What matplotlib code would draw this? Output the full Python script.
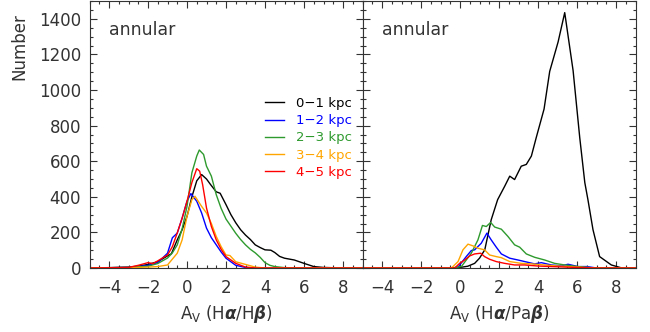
"""
A_V distributions in annular bins: Halpha/Hbeta vs Halpha/Pabeta
"""
import matplotlib
matplotlib.use('Agg')
import matplotlib.pyplot as plt
from matplotlib.ticker import MultipleLocator

plt.rcParams['font.family'] = ['DejaVu Sans']
plt.rcParams['mathtext.fontset'] = 'dejavusans'

# legend labels and line colours
labels = ['0\u22121 kpc', '1\u22122 kpc', '2\u22123 kpc', '3\u22124 kpc', '4\u22125 kpc']
colors = ['black', '#0000ff', '#2e9a2e', '#ffa500', '#ff0000']

# left panel: A_V (Halpha/Hbeta)
black_l_x = [-5, -4, -3, -2.5, -2, -1.5, -1.2, -1, -0.8, -0.5, -0.25, 0, 0.25, 0.5, 0.75,
             1.0, 1.2, 1.5, 1.7, 2.0, 2.25, 2.5, 2.75, 3.0, 3.25, 3.5, 3.75, 4.0, 4.3,
             4.5, 4.75, 5.0, 5.5, 6.0, 6.5, 7.0, 8, 9]
black_l_y = [0, 2, 5, 10, 20, 35, 55, 68, 80, 158, 215, 290, 400, 490, 525,
             500, 470, 428, 420, 356, 300, 254, 215, 185, 160, 130, 115, 102, 100,
             87, 65, 55, 45, 26, 8, 3, 0, 0]

blue_l_x = [-5, -3, -2.5, -2, -1.5, -1, -0.75, -0.5, -0.25, 0, 0.2, 0.5, 0.75, 1.0,
            1.25, 1.5, 1.75, 2.0, 2.5, 3.0, 3.5, 9]
blue_l_y = [0, 3, 8, 15, 30, 83, 170, 196, 280, 375, 418, 375, 309, 224,
            170, 130, 90, 55, 15, 3, 0, 0]

green_l_x = [-5, -3, -2, -1.5, -1, -0.75, -0.5, -0.25, 0, 0.25, 0.5, 0.63, 0.85, 1.0,
             1.25, 1.5, 1.75, 2.0, 2.25, 2.5, 2.75, 3.0, 3.25, 3.5, 3.75, 4.0, 4.25,
             4.5, 5, 6, 9]
green_l_y = [0, 3, 10, 25, 56, 85, 130, 220, 346, 535, 629, 663, 638, 572,
             516, 412, 335, 275, 235, 195, 160, 130, 105, 85, 60, 30, 15,
             8, 2, 0, 0]

orange_l_x = [-5, -3, -2, -1.5, -1, -0.5, -0.25, 0, 0.25, 0.41, 0.75, 1.0, 1.25, 1.5,
              1.75, 2.0, 2.2, 2.5, 3.0, 3.5, 4, 9]
orange_l_y = [0, 2, 5, 8, 17, 83, 158, 290, 384, 403, 346, 309, 250, 177,
              120, 73, 70, 35, 20, 5, 0, 0]

red_l_x = [-5, -3, -2.5, -2.0, -1.75, -1.5, -1, -0.75, -0.5, -0.25, 0, 0.25, 0.5, 0.65,
           0.8, 1.0, 1.25, 1.5, 1.75, 2.0, 2.5, 3.0, 3.5, 9]
red_l_y = [0, 3, 15, 30, 25, 40, 73, 120, 197, 280, 375, 480, 558, 544,
           469, 337, 233, 158, 105, 64, 26, 5, 0, 0]

# right panel: A_V (Halpha/Pabeta)
black_r_x = [-5, -0.5, 0, 0.4, 0.75, 1.0, 1.27, 1.6, 1.93, 2.29, 2.55, 2.8, 3.14, 3.4,
             3.66, 3.91, 4.31, 4.6, 5.03, 5.37, 5.8, 6.14, 6.4, 6.56, 6.82, 7.16, 7.76,
             8.3, 9]
black_r_y = [0, 0, 3, 10, 26, 55, 102, 271, 384, 459, 516, 497, 572, 582,
             629, 733, 893, 1105, 1270, 1435, 1109, 733, 480, 384, 215, 64, 17,
             0, 0]

blue_r_x = [-5, -0.4, -0.1, 0.32, 0.58, 0.75, 1.09, 1.38, 1.6, 1.86, 2.12, 2.55, 2.97,
            3.32, 3.83, 4.17, 4.68, 5.2, 5.54, 6.05, 6.5, 7, 9]
blue_r_y = [0, 0, 5, 64, 98, 102, 139, 196, 158, 117, 79, 55, 45,
            36, 23, 30, 17, 12, 21, 8, 8, 0, 0]

green_r_x = [-5, -0.4, 0.07, 0.58, 0.92, 1.15, 1.35, 1.57, 1.78, 2.12, 2.46, 2.8, 3.06,
             3.4, 3.83, 4.34, 4.85, 5.37, 6.05, 6.56, 7, 9]
green_r_y = [0, 0, 8, 83, 158, 239, 233, 256, 230, 218, 177, 130, 117,
             79, 60, 45, 26, 17, 8, 3, 0, 0]

orange_r_x = [-5, -0.44, -0.1, 0.15, 0.41, 0.67, 0.92, 1.26, 1.52, 1.86, 2.12, 2.55,
              3.14, 3.66, 4.34, 5.03, 6.0, 7, 9]
orange_r_y = [0, 0, 36, 102, 134, 124, 111, 102, 73, 64, 58, 36,
              26, 23, 17, 11, 5, 0, 0]

red_r_x = [-5, -0.27, -0.02, 0.24, 0.5, 0.75, 1.06, 1.26, 1.52, 1.86, 2.29, 2.8, 3.32,
           4.0, 4.68, 6.0, 7, 9]
red_r_y = [0, 0, 26, 45, 68, 79, 83, 64, 49, 36, 26, 17, 17,
           11, 8, 3, 0, 0]

left_series = [(black_l_x, black_l_y), (blue_l_x, blue_l_y), (green_l_x, green_l_y),
               (orange_l_x, orange_l_y), (red_l_x, red_l_y)]
right_series = [(black_r_x, black_r_y), (blue_r_x, blue_r_y), (green_r_x, green_r_y),
                (orange_r_x, orange_r_y), (red_r_x, red_r_y)]

text_color = '#333333'

fig = plt.figure(figsize=(6.5, 3.32), dpi=100)
ax1 = fig.add_axes([0.1377, 0.1928, 0.42, 0.804])
ax2 = fig.add_axes([0.5577, 0.1928, 0.42, 0.804])

for ax, series, xlab in [(ax1, left_series, r'A$_{\rm V}$ (H$\boldsymbol{\alpha}$/H$\boldsymbol{\beta}$)'),
                         (ax2, right_series, r'A$_{\rm V}$ (H$\boldsymbol{\alpha}$/Pa$\boldsymbol{\beta}$)')]:
    for (x, y), c, lab in zip(series, colors, labels):
        ax.plot(x, y, color=c, lw=1.0, label=lab)
    ax.set_xlim(-5, 9)
    ax.set_ylim(0, 1500)
    ax.xaxis.set_major_locator(MultipleLocator(2))
    ax.xaxis.set_minor_locator(MultipleLocator(0.5))
    ax.yaxis.set_major_locator(MultipleLocator(200))
    ax.yaxis.set_minor_locator(MultipleLocator(50))
    ax.tick_params(which='both', direction='in', top=True, right=True,
                   colors=text_color, labelsize=12, width=0.8)
    ax.tick_params(which='major', length=5)
    ax.tick_params(which='minor', length=2.5)
    ax.tick_params(axis='x', pad=8)
    ax.tick_params(axis='y', pad=6)
    for sp in ax.spines.values():
        sp.set_color(text_color)
        sp.set_linewidth(0.8)
    ax.set_xlabel(xlab, fontsize=12, color=text_color, labelpad=4)
    ax.text(0.07, 0.89, 'annular', transform=ax.transAxes, fontsize=12.5,
            color=text_color, va='center', ha='left')

ax2.tick_params(labelleft=False)
ax1.set_ylabel('Number', fontsize=12, color=text_color)
ax1.yaxis.set_label_coords(-0.225, 0.83)

leg = ax1.legend(loc='upper left', bbox_to_anchor=(0.6, 0.685), frameon=False,
                 fontsize=9.5, handlelength=1.4, handletextpad=0.9,
                 labelspacing=0.32, labelcolor=colors)

fig.savefig('out.png', dpi=100)
